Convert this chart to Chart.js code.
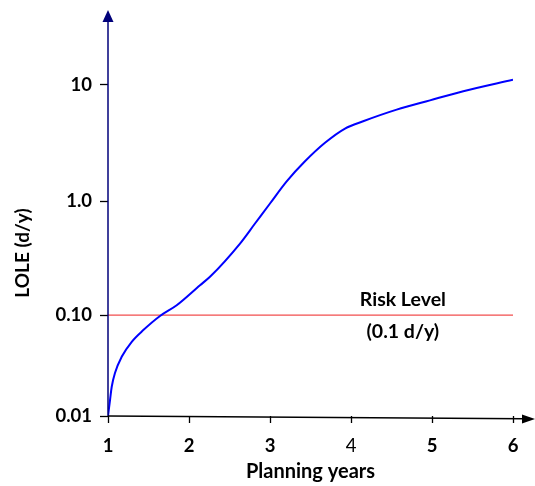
<!DOCTYPE html>
<html>
<head>
<meta charset="utf-8">
<script src="https://cdn.jsdelivr.net/npm/chart.js@4/dist/chart.umd.min.js"></script>
<style>
  html, body { margin: 0; padding: 0; background: #fff; }
  #wrap { width: 535px; height: 486px; position: relative; }
</style>
</head>
<body>
<div id="wrap"><canvas id="c" width="535" height="486"></canvas></div>
<script>
// ---- data ----
const planningYears = [1.0, 1.025, 1.046, 1.086, 1.169, 1.293, 1.436, 1.642, 1.848, 2.136, 2.259, 2.630, 2.815, 3.0, 3.206, 3.432, 3.679, 3.926, 4.15, 4.564, 4.975, 5.386, 6.0];
const loleValues    = [0.01, 0.0144, 0.0195, 0.0267, 0.0386, 0.0544, 0.071, 0.098, 0.122, 0.183, 0.217, 0.425, 0.637, 0.955, 1.48, 2.2, 3.17, 4.2, 4.85, 6.1, 7.33, 8.77, 11.0];
const riskYears = [1, 6];
const riskValues = [0.1, 0.1];
const yTickValues = [0.01, 0.1, 1, 10];
const yTickLabels = ['0.01', '0.10', '1.0', '10'];
const xTickValues = [1, 2, 3, 4, 5, 6];
const riskLabelLines = ['Risk Level', '(0.1 d/y)'];
const yTitle = 'LOLE (d/y)';
const xTitle = 'Planning years';

const FONT = 'Lato, "Open Sans", sans-serif';
// relative spacing of each decade on the drawn axis (the original axis is not evenly spaced)
const DECADE_WEIGHTS = [101, 114, 116.7, 116.7, 116.7];

class PiecewiseLogScale extends Chart.LogarithmicScale {
  _cum(d) {
    let acc = 0;
    for (let i = 0; i < DECADE_WEIGHTS.length; i++) {
      const part = Math.min(1, Math.max(0, d - i));
      acc += part * DECADE_WEIGHTS[i];
    }
    return acc;
  }
  getPixelForValue(value) {
    if (value === null || value === undefined || value <= 0) return NaN;
    const d = Math.log10(value) - Math.log10(this.min);
    const total = this._cum(Math.log10(this.max) - Math.log10(this.min));
    return this.getPixelForDecimal(this._cum(d) / total);
  }
  getValueForPixel(pixel) {
    const frac = this.getDecimalForPixel(pixel);
    const total = this._cum(Math.log10(this.max) - Math.log10(this.min));
    let target = frac * total, d = 0;
    for (let i = 0; i < DECADE_WEIGHTS.length; i++) {
      if (target <= DECADE_WEIGHTS[i]) { d += target / DECADE_WEIGHTS[i]; break; }
      target -= DECADE_WEIGHTS[i]; d += 1;
    }
    return this.min * Math.pow(10, d);
  }
  buildTicks() {
    return yTickValues.map(v => ({ value: v, major: false }));
  }
}
PiecewiseLogScale.id = 'pwlog';
PiecewiseLogScale.defaults = Chart.LogarithmicScale.defaults;
Chart.register(PiecewiseLogScale);

const decorPlugin = {
  id: 'decor',
  afterDraw(chart) {
    const ctx = chart.ctx;
    const xs = chart.scales.x, ys = chart.scales.y;
    const x0 = xs.left, yb = ys.bottom;
    ctx.save();
    // y axis with arrow
    ctx.strokeStyle = '#00007a';
    ctx.fillStyle = '#00007a';
    ctx.lineWidth = 1.5;
    ctx.beginPath();
    ctx.moveTo(x0, yb);
    ctx.lineTo(x0, 20);
    ctx.stroke();
    ctx.beginPath();
    ctx.moveTo(x0, 10);
    ctx.lineTo(x0 - 5.5, 22);
    ctx.lineTo(x0 + 5.5, 22);
    ctx.closePath();
    ctx.fill();
    // x axis with arrow (slightly slanted as in original)
    ctx.strokeStyle = '#000';
    ctx.fillStyle = '#000';
    ctx.lineWidth = 1.5;
    ctx.beginPath();
    ctx.moveTo(x0, yb);
    ctx.lineTo(524, yb + 2.8);
    ctx.stroke();
    ctx.beginPath();
    ctx.moveTo(535, yb + 3);
    ctx.lineTo(522, yb - 1.5);
    ctx.lineTo(522, yb + 7.5);
    ctx.closePath();
    ctx.fill();
    // risk label
    ctx.font = 'bold 19.5px ' + FONT;
    ctx.textAlign = 'center';
    ctx.textBaseline = 'middle';
    const cx = xs.getPixelForValue(4.64);
    const ry = ys.getPixelForValue(riskValues[0]);
    ctx.fillText(riskLabelLines[0], cx, ry - 15);
    ctx.fillText(riskLabelLines[1], cx, ry + 17);
    // y title
    ctx.translate(23, 253);
    ctx.rotate(-Math.PI / 2);
    ctx.font = 'bold 19px ' + FONT;
    ctx.fillText(yTitle, 0, 0);
    ctx.restore();
  }
};

new Chart(document.getElementById('c'), {
  type: 'line',
  data: {
    datasets: [
      {
        data: planningYears.map((x, i) => ({ x, y: loleValues[i] })),
        borderColor: '#0000ff',
        borderWidth: 2,
        pointRadius: 0,
        cubicInterpolationMode: 'monotone',
        fill: false
      },
      {
        data: riskYears.map((x, i) => ({ x, y: riskValues[i] })),
        borderColor: '#ee2020',
        borderWidth: 1,
        pointRadius: 0,
        fill: false
      }
    ]
  },
  options: {
    responsive: false,
    animation: false,
    layout: { padding: { top: 29, right: 22, left: 0, bottom: 0 } },
    plugins: { legend: { display: false }, tooltip: { enabled: false } },
    scales: {
      x: {
        type: 'linear',
        min: 1, max: 6,
        afterBuildTicks: s => { s.ticks = xTickValues.map(v => ({ value: v })); },
        afterFit: s => { s.height = 70; },
        border: { display: false },
        grid: { drawOnChartArea: false, tickLength: 7, color: '#000', tickWidth: 1.3 },
        ticks: {
          color: '#000', padding: 12,
          font: c => ({ family: FONT, size: 18.5, weight: (c.tick && c.tick.value === 4) ? 'normal' : 'bold' })
        },
        title: { display: true, text: xTitle, color: '#000', font: { family: FONT, size: 20, weight: 'bold' }, padding: { top: 0, bottom: 2 } }
      },
      y: {
        type: 'pwlog',
        min: 0.01, max: 30,
        afterFit: s => { s.width = 108; },
        border: { display: false },
        grid: { drawOnChartArea: false, tickLength: 8, color: '#000', tickWidth: 1.3 },
        ticks: {
          color: '#000', padding: 8,
          font: { family: FONT, size: 18.5, weight: 'bold' },
          callback: (v, i) => yTickLabels[i]
        }
      }
    }
  },
  plugins: [decorPlugin]
});
</script>
</body>
</html>
